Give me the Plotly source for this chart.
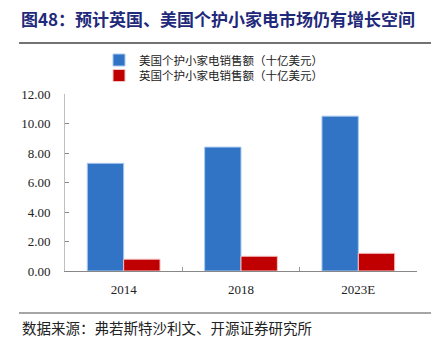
import plotly.graph_objects as go

# Personal care small appliance sales (USD bn)
years = ["2014", "2018", "2023E"]
us_sales = [7.3, 8.4, 10.5]
uk_sales = [0.8, 1.0, 1.2]
series_names = ["美国个护小家电销售额（十亿美元）", "英国个护小家电销售额（十亿美元）"]
y_ticks = [0, 2, 4, 6, 8, 10, 12]
y_tick_text = [f"{v:.2f}" for v in y_ticks]

title_text = "图48：预计英国、美国个护小家电市场仍有增长空间"
source_text = "数据来源：弗若斯特沙利文、开源证券研究所"

CJK = "Noto Sans CJK SC"
SERIF = "Liberation Serif"

W, H = 443, 339
ml, mr, mt, mb = 65, 26, 94, 68
PW, PH = W - ml - mr, H - mt - mb


def px_x(x):
    return (x - ml) / PW


def px_y(y):
    return 1 - (y - mt) / PH


fig = go.Figure()
fig.add_trace(go.Bar(
    x=years, y=us_sales, name=series_names[0], legend="legend",
    marker=dict(color="#3174C6", line=dict(color="#A9C8EE", width=1)),
))
fig.add_trace(go.Bar(
    x=years, y=uk_sales, name=series_names[1], legend="legend2",
    marker=dict(color="#C00000", line=dict(color="#F2C4C4", width=1)),
))

legend_style = dict(
    xanchor="left", yanchor="middle",
    font=dict(family=CJK, size=11.5, color="#222"),
    itemwidth=30, bgcolor="rgba(0,0,0,0)", borderwidth=0,
)

fig.update_layout(
    width=W, height=H,
    margin=dict(l=ml, r=mr, t=mt, b=mb),
    paper_bgcolor="white", plot_bgcolor="white",
    barmode="group", bargap=0.38, bargroupgap=0,
    showlegend=True,
    legend=dict(x=px_x(99), y=px_y(60), **legend_style),
    legend2=dict(x=px_x(99), y=px_y(75.5), **legend_style),
    font=dict(family=SERIF, size=12, color="#222"),
)

fig.update_yaxes(
    range=[0, 12], tickvals=y_ticks, ticktext=y_tick_text,
    showgrid=False, zeroline=False,
    showline=True, linecolor="#BFBFBF", linewidth=1,
    ticks="inside", ticklen=4, tickcolor="#888",
    tickfont=dict(family=SERIF, size=13, color="#222"),
    ticklabelstandoff=11,
)
fig.update_xaxes(
    showgrid=False, showline=True, linecolor="#888", linewidth=1,
    ticks="inside", ticklen=4, tickcolor="#999", tickson="boundaries",
    tickfont=dict(family=SERIF, size=13, color="#222"),
    ticklabelstandoff=6,
)

# Title, rules and source note
fig.add_annotation(
    text=f"<b>{title_text}</b>", xref="paper", yref="paper",
    x=px_x(19), y=px_y(18),
    xanchor="left", yanchor="middle", showarrow=False,
    font=dict(family=CJK, size=17, color="#1F2A7A"),
)
fig.add_annotation(
    text=source_text, xref="paper", yref="paper",
    x=px_x(20), y=px_y(327),
    xanchor="left", yanchor="middle", showarrow=False,
    font=dict(family=CJK, size=14.5, color="#222"),
)
for yy, col in [(43, "#444"), (313, "#888")]:
    fig.add_shape(
        type="line", xref="paper", yref="paper",
        x0=px_x(19), x1=px_x(431), y0=px_y(yy), y1=px_y(yy),
        line=dict(color=col, width=1.5),
    )

fig.write_html("out.html")
